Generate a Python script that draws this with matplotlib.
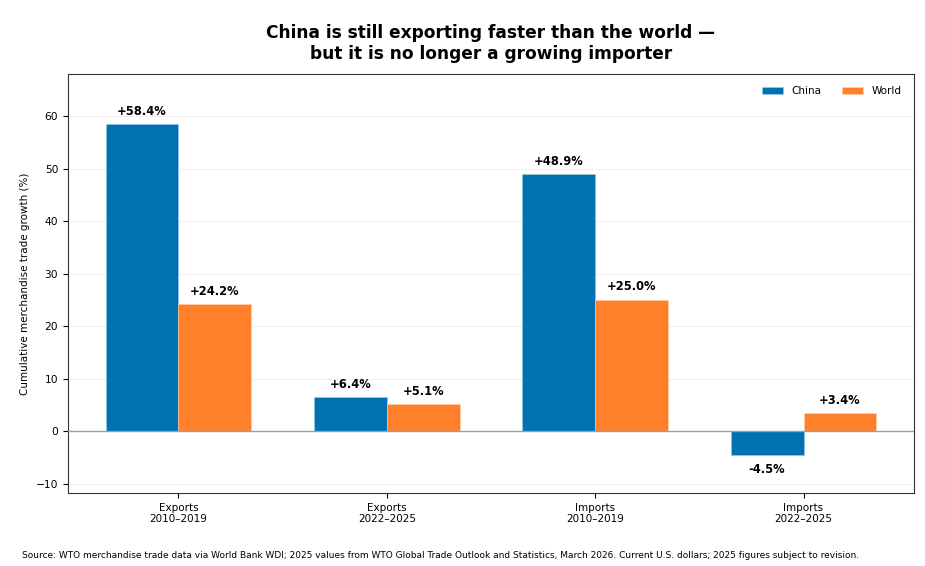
"""China vs world merchandise trade growth, grouped bars."""

import matplotlib

matplotlib.use("Agg")
import matplotlib.pyplot as plt
import numpy as np

categories = ["Exports\n2010–2019", "Exports\n2022–2025", "Imports\n2010–2019", "Imports\n2022–2025"]
china = [58.4, 6.4, 48.9, -4.5]
world = [24.2, 5.1, 25.0, 3.4]

CHINA_COLOR = "#0072b2"
WORLD_COLOR = "#ff7f2a"


def label_bars(ax, bars, values):
    for bar, val in zip(bars, values):
        x = bar.get_x() + bar.get_width() / 2
        if val >= 0:
            ax.text(x, val + 1.2, f"+{val:.1f}%", ha="center", va="bottom",
                    fontsize=8.3, fontweight="bold")
        else:
            ax.text(x, val - 1.6, f"{val:.1f}%", ha="center", va="top",
                    fontsize=8.3, fontweight="bold")


def main():
    fig = plt.figure(figsize=(9.25, 5.66), dpi=100)
    ax = fig.add_axes([68 / 925, 1 - 493 / 566, (914 - 68) / 925, (493 - 74) / 566])

    x = np.arange(len(categories))
    width = 0.35
    b1 = ax.bar(x - width / 2, china, width, color=CHINA_COLOR, label="China",
                edgecolor="#9ecae1", linewidth=0.4)
    b2 = ax.bar(x + width / 2, world, width, color=WORLD_COLOR, label="World",
                edgecolor="#ffd0a8", linewidth=0.4)
    label_bars(ax, b1, china)
    label_bars(ax, b2, world)

    ax.axhline(0, color="#6aafdc", linewidth=1.0, zorder=3)
    ax.set_ylim(-11.8, 68)
    ax.set_xlim(-0.53, 3.53)
    ax.set_xticks(x)
    ax.set_xticklabels(categories, fontsize=7.5)
    ax.tick_params(axis="y", labelsize=7.7)
    ax.set_ylabel("Cumulative merchandise trade growth (%)", fontsize=7.5)
    ax.yaxis.grid(True, color="#f0f0f0", linewidth=0.8)
    ax.set_axisbelow(True)
    for spine in ax.spines.values():
        spine.set_color("#333333")

    ax.legend(loc="upper right", frameon=False, ncol=2, fontsize=7.5,
              handlelength=2.0, columnspacing=2.0, borderaxespad=0.8)

    ax.set_title("China is still exporting faster than the world —\n"
                 "but it is no longer a growing importer",
                 fontsize=12.25, fontweight="bold", pad=11)
    fig.text(22 / 925, 1 - 555 / 566,
             "Source: WTO merchandise trade data via World Bank WDI; 2025 values from WTO Global "
             "Trade Outlook and Statistics, March 2026. Current U.S. dollars; 2025 figures subject to revision.",
             fontsize=6.45, va="center", ha="left")

    fig.savefig("out.png", dpi=100)
    plt.close(fig)


if __name__ == "__main__":
    main()
